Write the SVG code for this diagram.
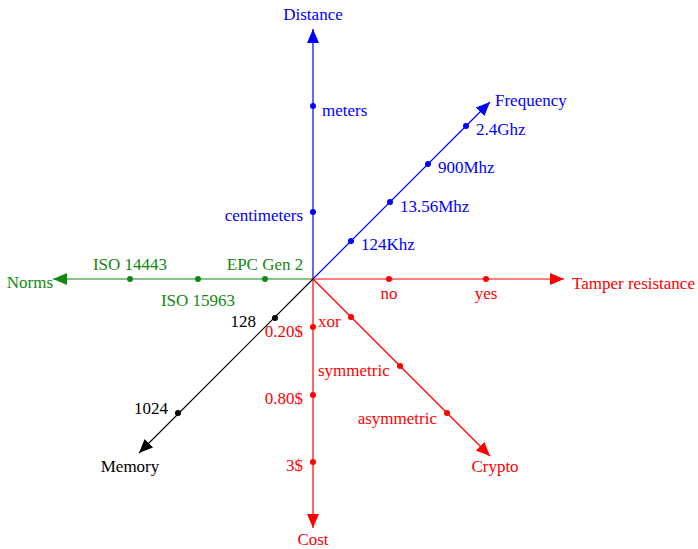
<svg xmlns="http://www.w3.org/2000/svg" width="698" height="549" viewBox="0 0 698 549">
  <style>
    text { font-family: "Liberation Serif", "Times New Roman", serif; font-size: 17px; }
    .blue { fill: #0000ff; } .green { fill: #118811; } .red { fill: #ff0000; } .black { fill: #000000; }
    .axis { stroke-width: 1.2; fill: none; }
    .mid { text-anchor: middle; } .end { text-anchor: end; }
  </style>
  <defs>
    <marker id="arrB" viewBox="0 0 14 12" refX="14" refY="6" markerWidth="14" markerHeight="12" markerUnits="userSpaceOnUse" orient="auto"><path d="M0,0 L14,6 L0,12 Z" fill="#0000ff"/></marker>
    <marker id="arrG" viewBox="0 0 14 12" refX="14" refY="6" markerWidth="14" markerHeight="12" markerUnits="userSpaceOnUse" orient="auto"><path d="M0,0 L14,6 L0,12 Z" fill="#118811"/></marker>
    <marker id="arrR" viewBox="0 0 14 12" refX="14" refY="6" markerWidth="14" markerHeight="12" markerUnits="userSpaceOnUse" orient="auto"><path d="M0,0 L14,6 L0,12 Z" fill="#ff0000"/></marker>
    <marker id="arrK" viewBox="0 0 14 12" refX="14" refY="6" markerWidth="14" markerHeight="12" markerUnits="userSpaceOnUse" orient="auto"><path d="M0,0 L14,6 L0,12 Z" fill="#000000"/></marker>
  </defs>

  <!-- axes -->
  <g id="connectors">
    <line class="axis" x1="313" y1="279" x2="313" y2="29" stroke="#0000ff" marker-end="url(#arrB)"/>
    <line class="axis" x1="313" y1="279" x2="490" y2="102" stroke="#0000ff" marker-end="url(#arrB)"/>
    <line class="axis" x1="313" y1="279" x2="53" y2="279" stroke="#118811" marker-end="url(#arrG)"/>
    <line class="axis" x1="313" y1="279" x2="564" y2="279" stroke="#ff0000" marker-end="url(#arrR)"/>
    <line class="axis" x1="313" y1="279" x2="313" y2="528" stroke="#ff0000" marker-end="url(#arrR)"/>
    <line class="axis" x1="313" y1="279" x2="490" y2="456" stroke="#ff0000" marker-end="url(#arrR)"/>
    <line class="axis" x1="313" y1="279" x2="139" y2="453" stroke="#000000" marker-end="url(#arrK)"/>
  </g>

  <g id="distance">
    <text class="blue mid" x="313" y="20">Distance</text>
    <circle cx="313" cy="106" r="3" fill="#0000ff"/>
    <text class="blue" x="322" y="116">meters</text>
    <circle cx="313" cy="212" r="3" fill="#0000ff"/>
    <text class="blue end" x="303" y="221">centimeters</text>
  </g>

  <g id="frequency">
    <text class="blue" x="495" y="106">Frequency</text>
    <circle cx="351" cy="241" r="3" fill="#0000ff"/>
    <text class="blue" x="361" y="250">124Khz</text>
    <circle cx="390" cy="202" r="3" fill="#0000ff"/>
    <text class="blue" x="400" y="212">13.56Mhz</text>
    <circle cx="428" cy="164" r="3" fill="#0000ff"/>
    <text class="blue" x="438" y="173">900Mhz</text>
    <circle cx="466" cy="126" r="3" fill="#0000ff"/>
    <text class="blue" x="476" y="135">2.4Ghz</text>
  </g>

  <g id="norms">
    <text class="green end" x="53" y="288">Norms</text>
    <circle cx="265" cy="279" r="3" fill="#118811"/>
    <text class="green mid" x="265" y="270">EPC Gen 2</text>
    <circle cx="198" cy="279" r="3" fill="#118811"/>
    <text class="green mid" x="198" y="306">ISO 15963</text>
    <circle cx="130" cy="279" r="3" fill="#118811"/>
    <text class="green mid" x="130" y="270">ISO 14443</text>
  </g>

  <g id="tamper">
    <text class="red" x="572" y="289">Tamper resistance</text>
    <circle cx="389" cy="279" r="3" fill="#ff0000"/>
    <text class="red mid" x="389" y="299">no</text>
    <circle cx="486" cy="279" r="3" fill="#ff0000"/>
    <text class="red mid" x="486" y="299">yes</text>
  </g>

  <g id="cost">
    <text class="red mid" x="313" y="545">Cost</text>
    <circle cx="313" cy="327" r="3" fill="#ff0000"/>
    <text class="red end" x="303" y="337">0.20$</text>
    <circle cx="313" cy="395" r="3" fill="#ff0000"/>
    <text class="red end" x="303" y="404">0.80$</text>
    <circle cx="313" cy="462" r="3" fill="#ff0000"/>
    <text class="red end" x="303" y="471">3$</text>
  </g>

  <g id="crypto">
    <text class="red mid" x="495" y="472">Crypto</text>
    <circle cx="351" cy="317" r="3" fill="#ff0000"/>
    <text class="red" x="318" y="327">xor</text>
    <circle cx="400" cy="366" r="3" fill="#ff0000"/>
    <text class="red" x="318" y="376">symmetric</text>
    <circle cx="447" cy="413" r="3" fill="#ff0000"/>
    <text class="red end" x="437" y="424">asymmetric</text>
  </g>

  <g id="memory">
    <text class="black mid" x="130" y="472">Memory</text>
    <circle cx="275" cy="318" r="3" fill="#000000"/>
    <text class="black end" x="256" y="327">128</text>
    <circle cx="178" cy="413" r="3" fill="#000000"/>
    <text class="black end" x="168" y="414">1024</text>
  </g>
</svg>
